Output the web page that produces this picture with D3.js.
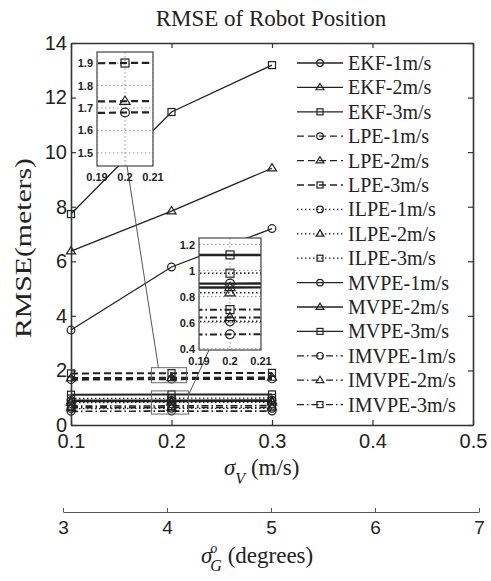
<!DOCTYPE html>
<html>
<head>
<meta charset="utf-8">
<script src="https://cdn.jsdelivr.net/npm/d3@7"></script>
<style>
  body { margin: 0; background: #fff; }
  svg text { fill: #222; }
</style>
</head>
<body>
<div id="chart"></div>
<script>
// x values (sigma_V, m/s) and the second axis (sigma_G, degrees)
var sigmaV = [0.1, 0.2, 0.3];
var sigmaVTicks = [0.1, 0.2, 0.3, 0.4, 0.5];
var sigmaGTicks = [3, 4, 5, 6, 7];
var rmseTicks = [0, 2, 4, 6, 8, 10, 12, 14];

// legend names
var seriesNames = ["EKF-1m/s", "EKF-2m/s", "EKF-3m/s",
                   "LPE-1m/s", "LPE-2m/s", "LPE-3m/s",
                   "ILPE-1m/s", "ILPE-2m/s", "ILPE-3m/s",
                   "MVPE-1m/s", "MVPE-2m/s", "MVPE-3m/s",
                   "IMVPE-1m/s", "IMVPE-2m/s", "IMVPE-3m/s"];

// RMSE values (1m/s, 2m/s, 3m/s)
var ekfValues   = [[3.48, 5.79, 7.20], [6.37, 7.84, 9.41], [7.73, 11.47, 13.19]];
var lpeValues   = [[1.66, 1.68, 1.69], [1.72, 1.73, 1.74], [1.89, 1.90, 1.91]];
var ilpeValues  = [[0.60, 0.61, 0.61], [0.82, 0.83, 0.83], [0.97, 0.98, 0.99]];
var mvpeValues  = [[0.90, 0.90, 0.91], [0.87, 0.87, 0.88], [1.11, 1.12, 1.12]];
var imvpeValues = [[0.50, 0.51, 0.51], [0.63, 0.64, 0.64], [0.69, 0.70, 0.71]];

// inset ticks
var insetXTicks = [0.19, 0.2, 0.21];
var upperInsetTicks = [1.5, 1.6, 1.7, 1.8, 1.9];
var lowerInsetTicks = [0.4, 0.6, 0.8, 1, 1.2];

// line style per method
var styles = {
  EKF:   {dash: null,          width: 1.3, insetWidth: 1.3},
  LPE:   {dash: "7,4",         width: 2,   insetWidth: 2.2},
  ILPE:  {dash: "1.5,2.5",     width: 1.3, insetWidth: 1.6},
  MVPE:  {dash: null,          width: 2,   insetWidth: 2.4},
  IMVPE: {dash: "7,3,1.5,3",   width: 1.6, insetWidth: 2}
};
var markers = ["circle", "triangle", "square"];

// build the series list from the arrays
var series = [];
[["EKF", ekfValues], ["LPE", lpeValues], ["ILPE", ilpeValues],
 ["MVPE", mvpeValues], ["IMVPE", imvpeValues]].forEach(function(m) {
  m[1].forEach(function(vals, i) {
    series.push({
      name: seriesNames[series.length],
      method: m[0],
      marker: markers[i],
      values: vals.map(function(v, j) { return {x: sigmaV[j], y: v}; })
    });
  });
});

var W = 491, H = 581;
var svg = d3.select("#chart").append("svg")
        .attr("width", W)
        .attr("height", H);

// main scales
var x = d3.scaleLinear().domain([0.1, 0.5]).range([71, 473]);
var y = d3.scaleLinear().domain([0, 14]).range([425, 43]);

// draw a marker symbol at a point
function drawMarker(g, type, cx, cy, size) {
  if (type == "circle") {
    g.append("circle").attr("cx", cx).attr("cy", cy).attr("r", size * 0.55)
      .attr("fill", "none").attr("stroke", "#222").attr("stroke-width", 1.2);
  } else if (type == "triangle") {
    var s = size * 0.65;
    g.append("path")
      .attr("d", "M" + cx + "," + (cy - s) + "L" + (cx + s) + "," + (cy + s * 0.6) + "L" + (cx - s) + "," + (cy + s * 0.6) + "Z")
      .attr("fill", "none").attr("stroke", "#222").attr("stroke-width", 1.2);
  } else {
    g.append("rect").attr("x", cx - size / 2).attr("y", cy - size / 2)
      .attr("width", size).attr("height", size)
      .attr("fill", "none").attr("stroke", "#222").attr("stroke-width", 1.2);
  }
}

// plot all the series with given scales
function drawSeries(g, xs, ys, inset) {
  var line = d3.line()
        .x(function(d) { return xs(d.x); })
        .y(function(d) { return ys(d.y); });
  series.forEach(function(s) {
    var st = styles[s.method];
    g.append("path")
      .datum(s.values)
      .attr("d", line)
      .attr("fill", "none")
      .attr("stroke", "#222")
      .attr("stroke-width", inset ? st.insetWidth : st.width)
      .attr("stroke-dasharray", st.dash);
  });
  series.forEach(function(s) {
    s.values.forEach(function(d) {
      drawMarker(g, s.marker, xs(d.x), ys(d.y), inset ? 8 : 7);
    });
  });
}

// main plot area
var plot = svg.append("g");
plot.append("rect")
  .attr("x", x(0.1)).attr("y", y(14))
  .attr("width", x(0.5) - x(0.1)).attr("height", y(0) - y(14))
  .attr("fill", "#fff");

drawSeries(plot, x, y, false);

// zoom rectangles in the main plot
var zoomBoxes = [{x0: 0.18, x1: 0.215, y0: 1.55, y1: 2.1},
                 {x0: 0.18, x1: 0.217, y0: 0.4, y1: 1.25}];
zoomBoxes.forEach(function(b) {
  plot.append("rect")
    .attr("x", x(b.x0)).attr("y", y(b.y1))
    .attr("width", x(b.x1) - x(b.x0)).attr("height", y(b.y0) - y(b.y1))
    .attr("fill", "none").attr("stroke", "#666").attr("stroke-width", 1);
});

// axes (box style)
var axisColor = "#333";
function styleAxis(g) {
  g.select(".domain").attr("stroke", axisColor).attr("stroke-width", 1.6);
  g.selectAll(".tick line").attr("stroke", axisColor).attr("stroke-width", 1.2);
  g.selectAll("text")
    .style("font-family", "'Liberation Sans', Arial, sans-serif")
    .style("font-size", "20px");
}

svg.append("g")
  .attr("transform", "translate(0," + y(0) + ")")
  .call(d3.axisBottom(x).tickValues(sigmaVTicks).tickSizeInner(-5).tickSizeOuter(0).tickPadding(9)
    .tickFormat(d3.format(".1f")))
  .call(styleAxis);

svg.append("g")
  .attr("transform", "translate(0," + y(14) + ")")
  .call(d3.axisTop(x).tickValues(sigmaVTicks).tickSizeInner(-5).tickSizeOuter(0).tickFormat(""))
  .call(styleAxis);

svg.append("g")
  .attr("transform", "translate(" + x(0.1) + ",0)")
  .call(d3.axisLeft(y).tickValues(rmseTicks).tickSizeInner(-5).tickSizeOuter(0).tickPadding(4))
  .call(styleAxis);

svg.append("g")
  .attr("transform", "translate(" + x(0.5) + ",0)")
  .call(d3.axisRight(y).tickValues(rmseTicks).tickSizeInner(-5).tickSizeOuter(0).tickFormat(""))
  .call(styleAxis);

// legend
var legend = svg.append("g").attr("transform", "translate(297,63)");
series.forEach(function(s, i) {
  var st = styles[s.method];
  var row = legend.append("g").attr("transform", "translate(0," + (i * 24.4) + ")");
  row.append("line")
    .attr("x1", 0).attr("x2", 46).attr("y1", 0).attr("y2", 0)
    .attr("stroke", "#222").attr("stroke-width", 1.3)
    .attr("stroke-dasharray", st.dash);
  drawMarker(row, s.marker, 23, 0, 6);
  row.append("text")
    .attr("x", 51).attr("y", 7)
    .style("font-family", "'Liberation Serif', 'Times New Roman', serif")
    .style("font-size", "20px")
    .text(s.name);
});

// insets
function drawInset(id, box, yDomain, yTicks) {
  var xi = d3.scaleLinear().domain([0.19, 0.21]).range([box.x0, box.x1]);
  var yi = d3.scaleLinear().domain(yDomain).range([box.y1, box.y0]);
  var g = svg.append("g");
  g.append("clipPath").attr("id", id)
    .append("rect")
    .attr("x", box.x0).attr("y", box.y0)
    .attr("width", box.x1 - box.x0).attr("height", box.y1 - box.y0);
  g.append("rect")
    .attr("x", box.x0).attr("y", box.y0)
    .attr("width", box.x1 - box.x0).attr("height", box.y1 - box.y0)
    .attr("fill", "#fff");

  var inner = g.append("g").attr("clip-path", "url(#" + id + ")");
  // dotted grid
  yTicks.forEach(function(t) {
    inner.append("line")
      .attr("x1", box.x0).attr("x2", box.x1).attr("y1", yi(t)).attr("y2", yi(t))
      .attr("stroke", "#888").attr("stroke-width", 0.9).attr("stroke-dasharray", "1.5,2.5");
  });
  insetXTicks.forEach(function(t) {
    inner.append("line")
      .attr("x1", xi(t)).attr("x2", xi(t)).attr("y1", box.y0).attr("y2", box.y1)
      .attr("stroke", "#888").attr("stroke-width", 0.9).attr("stroke-dasharray", "1.5,2.5");
  });
  drawSeries(inner, xi, yi, true);

  g.append("rect")
    .attr("x", box.x0).attr("y", box.y0)
    .attr("width", box.x1 - box.x0).attr("height", box.y1 - box.y0)
    .attr("fill", "none").attr("stroke", "#444").attr("stroke-width", 1.2);

  // tick labels
  var font = "'Liberation Sans', Arial, sans-serif";
  yTicks.forEach(function(t) {
    g.append("text")
      .attr("x", box.x0 - 4).attr("y", yi(t) + 4)
      .attr("text-anchor", "end")
      .style("font-family", font).style("font-size", "11px").style("font-weight", "bold")
      .text(String(t));
  });
  insetXTicks.forEach(function(t) {
    g.append("text")
      .attr("x", xi(t)).attr("y", box.y1 + 15)
      .attr("text-anchor", "middle")
      .style("font-family", font).style("font-size", "11px").style("font-weight", "bold")
      .text(String(t));
  });
  return {x: xi, y: yi};
}

var upperBox = {x0: 97, x1: 153, y0: 52, y1: 166};
var lowerBox = {x0: 199, x1: 261, y0: 238, y1: 350};

// connector lines from the zoom boxes to the insets
svg.append("line")
  .attr("x1", x(0.187)).attr("y1", y(2.1))
  .attr("x2", 127).attr("y2", upperBox.y1)
  .attr("stroke", "#555").attr("stroke-width", 1);
svg.append("line")
  .attr("x1", x(0.217)).attr("y1", y(1.1))
  .attr("x2", 209).attr("y2", lowerBox.y1)
  .attr("stroke", "#555").attr("stroke-width", 1);

drawInset("clipUpper", upperBox, [1.442, 1.949], upperInsetTicks);
drawInset("clipLower", lowerBox, [0.39, 1.25], lowerInsetTicks);

// title and axis labels
var serif = "'Liberation Serif', 'Times New Roman', serif";
svg.append("text")
  .attr("x", 271).attr("y", 26)
  .attr("text-anchor", "middle")
  .style("font-family", serif).style("font-size", "23px")
  .text("RMSE of Robot Position");

svg.append("text")
  .attr("transform", "translate(31,248) rotate(-90)")
  .attr("text-anchor", "middle")
  .attr("textLength", 180)
  .attr("lengthAdjust", "spacingAndGlyphs")
  .style("font-family", serif).style("font-size", "23px")
  .text("RMSE(meters)");

var xLabel = svg.append("text")
  .attr("x", 224).attr("y", 475)
  .style("font-family", serif).style("font-size", "23px");
xLabel.append("tspan").style("font-style", "italic").text("σ");
xLabel.append("tspan").attr("dy", 9).style("font-style", "italic").style("font-size", "16px").text("V");
xLabel.append("tspan").attr("dy", -9).text(" (m/s)");

// second axis for sigma_G
var xg = d3.scaleLinear().domain([3, 7]).range([63, 479]);
svg.append("g")
  .attr("transform", "translate(0,512)")
  .call(d3.axisBottom(xg).tickValues(sigmaGTicks).tickSizeInner(-4).tickSizeOuter(0).tickPadding(9)
    .tickFormat(d3.format("d")))
  .call(function(g) {
    g.select(".domain").attr("stroke", "#555").attr("stroke-width", 1.2);
    g.selectAll(".tick line").attr("stroke", "#555");
    g.selectAll("text")
      .style("font-family", "'Liberation Sans', Arial, sans-serif")
      .style("font-size", "19px");
  });

var gLabel = svg.append("text")
  .attr("x", 201).attr("y", 563)
  .style("font-family", serif).style("font-size", "23px");
gLabel.append("tspan").style("font-style", "italic").text("σ");
gLabel.append("tspan").attr("dy", -10).attr("dx", -2).style("font-size", "14px").style("font-style", "italic").text("o");
gLabel.append("tspan").attr("dy", 18).attr("dx", -7).style("font-style", "italic").style("font-size", "16px").text("G");
gLabel.append("tspan").attr("dy", -8).text("  (degrees)");
</script>
</body>
</html>
